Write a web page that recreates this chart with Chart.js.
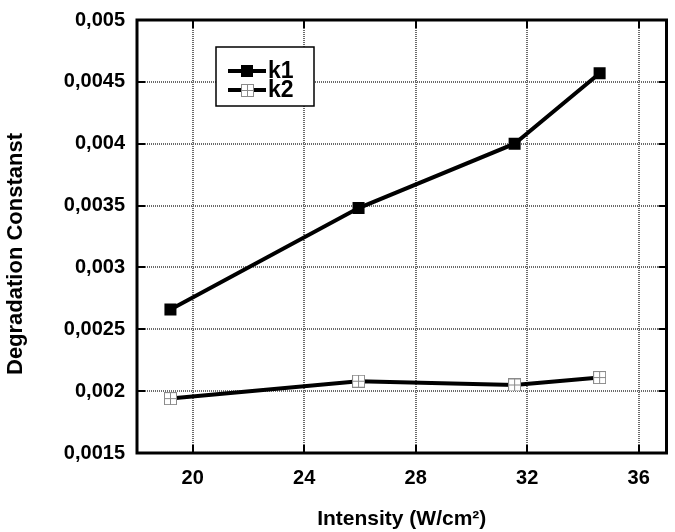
<!DOCTYPE html>
<html>
<head>
<meta charset="utf-8">
<script src="https://cdn.jsdelivr.net/npm/chart.js@4.4.1/dist/chart.umd.min.js"></script>
<style>
  body { margin: 0; background: #fff; }
  #wrap { width: 675px; height: 532px; }
</style>
</head>
<body>
<div id="wrap"><canvas id="degChart" width="675" height="532"></canvas></div>
<script>
// intensity (W/cm2) and the two degradation constants
var intensity = [19.2, 25.95, 31.55, 34.6];
var k1Values = [0.00266, 0.00348, 0.004, 0.00457];
var k2Values = [0.00194, 0.00208, 0.00205, 0.00211];
var xTicks = [20, 24, 28, 32, 36];
var yTicks = [0.0015, 0.002, 0.0025, 0.003, 0.0035, 0.004, 0.0045, 0.005];
var seriesNames = ['k1', 'k2'];
var yTitle = 'Degradation Constanst';

var FONT = "'Liberation Sans', Arial, sans-serif";

// open square with a cross inside, used for k2
var crossSquare = document.createElement('canvas');
crossSquare.width = 13;
crossSquare.height = 13;
(function () {
  var c = crossSquare.getContext('2d');
  c.fillStyle = '#fff';
  c.fillRect(0, 0, 13, 13);
  c.strokeStyle = '#8a8a8a';
  c.lineWidth = 1;
  c.strokeRect(0.5, 0.5, 12, 12);
  c.beginPath();
  c.moveTo(6.5, 0.5); c.lineTo(6.5, 12.5);
  c.moveTo(0.5, 6.5); c.lineTo(12.5, 6.5);
  c.stroke();
})();

function toPoints(xs, ys) {
  return xs.map(function (x, i) { return { x: x, y: ys[i] }; });
}

var frameAndTicks = {
  id: 'frameAndTicks',
  beforeDatasetsDraw: function (chart) {
    var ctx = chart.ctx, a = chart.chartArea;
    var xs = chart.scales.x, ys = chart.scales.y;
    var len = 8;
    ctx.save();
    ctx.strokeStyle = '#000';
    ctx.lineWidth = 2;
    ctx.beginPath();
    xs.ticks.forEach(function (t) {
      var px = Math.round(xs.getPixelForValue(t.value));
      ctx.moveTo(px, a.bottom); ctx.lineTo(px, a.bottom - len);
      ctx.moveTo(px, a.top); ctx.lineTo(px, a.top + len);
    });
    ys.ticks.forEach(function (t) {
      var py = Math.round(ys.getPixelForValue(t.value));
      ctx.moveTo(a.left, py); ctx.lineTo(a.left + len, py);
      ctx.moveTo(a.right, py); ctx.lineTo(a.right - len, py);
    });
    ctx.stroke();
    ctx.lineWidth = 3;
    ctx.strokeRect(a.left, a.top, a.right - a.left, a.bottom - a.top);
    ctx.restore();
  },
  afterDraw: function (chart) {
    var ctx = chart.ctx;
    // y axis title, sits a bit below the plot centre in the original
    ctx.save();
    ctx.translate(16, 254);
    ctx.rotate(-Math.PI / 2);
    ctx.fillStyle = '#000';
    ctx.font = 'bold 22px ' + FONT;
    ctx.textAlign = 'center';
    ctx.textBaseline = 'middle';
    ctx.fillText(yTitle, 0, 0);
    ctx.restore();

    // legend box
    var bx = 216, by = 47, bw = 98, bh = 59;
    ctx.save();
    ctx.fillStyle = '#fff';
    ctx.fillRect(bx, by, bw, bh);
    ctx.strokeStyle = '#000';
    ctx.lineWidth = 1.5;
    ctx.strokeRect(bx, by, bw, bh);
    chart.data.datasets.forEach(function (ds, i) {
      var y = by + 24 + i * 19;
      ctx.strokeStyle = '#000';
      ctx.lineWidth = 4;
      ctx.beginPath();
      ctx.moveTo(228, y); ctx.lineTo(266, y);
      ctx.stroke();
      if (i === 0) {
        ctx.fillStyle = '#000';
        ctx.fillRect(241, y - 6, 12, 12);
      } else {
        ctx.drawImage(crossSquare, 241, y - 6);
      }
      ctx.fillStyle = '#000';
      ctx.font = 'bold 23px ' + FONT;
      ctx.textBaseline = 'middle';
      ctx.fillText(ds.label, 268, y + 1);
    });
    ctx.restore();
  }
};

var data = {
  datasets: [
    {
      label: seriesNames[0],
      data: toPoints(intensity, k1Values),
      borderColor: '#000',
      backgroundColor: '#000',
      borderWidth: 4,
      pointStyle: 'rect',
      pointRadius: 8.5,
      pointBorderWidth: 0,
      tension: 0
    },
    {
      label: seriesNames[1],
      data: toPoints(intensity, k2Values),
      borderColor: '#000',
      backgroundColor: '#fff',
      borderWidth: 4,
      pointStyle: crossSquare,
      tension: 0
    }
  ]
};

var tickFont = { family: FONT, size: 20, weight: 'bold' };
var titleFont = { family: FONT, size: 21, weight: 'bold' };

var chartOptions = {
  responsive: false,
  animation: false,
  layout: { padding: { top: 20, right: 7, left: 0, bottom: 0 } },
  plugins: {
    legend: { display: false },
    tooltip: { enabled: false }
  },
  scales: {
    x: {
      type: 'linear',
      min: 18,
      max: 37,
      afterBuildTicks: function (s) {
        s.ticks = xTicks.map(function (v) { return { value: v }; });
      },
      afterFit: function (s) {
        s.height = 79;
        s.paddingLeft = 0;
        s.paddingRight = 0;
      },
      grid: { color: '#6a6a6a', lineWidth: 2, drawTicks: false },
      border: { display: false, dash: [1, 1] },
      ticks: { color: '#000', font: tickFont, padding: 13, maxRotation: 0 },
      title: {
        display: true,
        text: 'Intensity (W/cm²)',
        color: '#000',
        font: titleFont,
        padding: { top: 0, bottom: 0 }
      }
    },
    y: {
      min: 0.0015,
      max: 0.005,
      afterBuildTicks: function (s) {
        s.ticks = yTicks.map(function (v) { return { value: v }; });
      },
      afterFit: function (s) {
        s.width = 137;
        s.paddingTop = 0;
        s.paddingBottom = 0;
      },
      grid: { color: '#6a6a6a', lineWidth: 2, drawTicks: false },
      border: { display: false, dash: [1, 1] },
      ticks: {
        color: '#000',
        font: tickFont,
        padding: 12,
        callback: function (v) { return Number(v.toFixed(4)).toString().replace('.', ','); }
      },
      title: { display: false }
    }
  }
};

var degChart = new Chart(document.getElementById('degChart'), {
  type: 'line',
  data: data,
  options: chartOptions,
  plugins: [frameAndTicks]
});
</script>
</body>
</html>
